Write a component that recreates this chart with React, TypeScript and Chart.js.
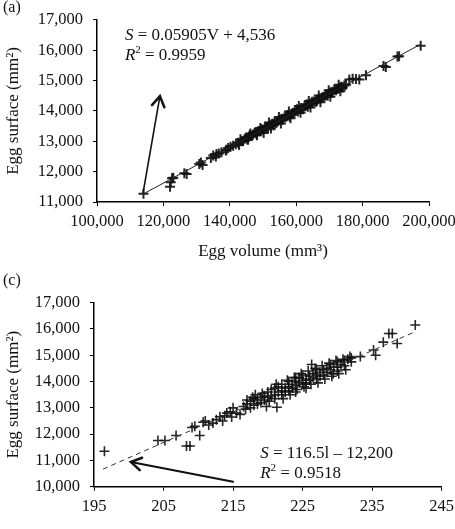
import React, { useEffect, useRef } from "react";
import { Chart, registerables } from "chart.js";
Chart.register(...registerables);

const FONT = "'Liberation Serif', 'Times New Roman', serif";

// Panel (a): egg volume (mm3) vs egg surface (mm2)
const pointsA: [number, number][] = [
  [114000, 11270], [122000, 11500], [122200, 11650], [122600, 11780], [123000, 11800],
  [126300, 11950], [127000, 11920], [130800, 12250], [131300, 12300], [131800, 12220],
  [134300, 12450], [135000, 12530], [135800, 12500], [136700, 12600], [137500, 12640],
  [138800, 12700], [139500, 12780], [140200, 12820], [141000, 12850], [141800, 12900],
  [142500, 12950], [143500, 13000], [144500, 13080], [145000, 13120], [145500, 13050],
  [146000, 13200], [146500, 13180], [147000, 13220], [147500, 13280], [148000, 13250],
  [148500, 13330], [149000, 13330], [149500, 13400], [150000, 13380], [150500, 13420],
  [151000, 13480], [151500, 13440], [152000, 13520], [152500, 13550], [153000, 13560],
  [153500, 13640], [154000, 13600], [154500, 13680], [155000, 13700], [155500, 13740],
  [156000, 13720], [156500, 13790], [157000, 13810], [157500, 13860], [158000, 13820],
  [158500, 13900], [159000, 13930], [159500, 13960], [160000, 14010], [160500, 13980],
  [161000, 14050], [161500, 14100], [162000, 14060], [162500, 14150], [163000, 14180],
  [163500, 14140], [164000, 14230], [164500, 14250], [165000, 14270], [165500, 14320],
  [166000, 14300], [166500, 14380], [167000, 14400], [167500, 14420], [168000, 14460],
  [168500, 14480], [169000, 14520], [169500, 14500], [170000, 14580], [170500, 14620],
  [171000, 14630], [171500, 14700], [172000, 14680], [172500, 14720], [173000, 14760],
  [173500, 14800], [174000, 14770], [174500, 14840], [175000, 14860], [176000, 15040],
  [177000, 15060], [178000, 15050], [179000, 15040], [181000, 15180], [186300, 15480],
  [187000, 15450], [190500, 15790], [191000, 15800], [197500, 16150],
  [145800, 13150], [147800, 13300], [150800, 13460], [152800, 13580], [155800, 13720],
  [158800, 13910], [161800, 14070], [164800, 14300], [167800, 14430], [170800, 14600],
  [173800, 14780], [148200, 13200], [153200, 13520], [157200, 13860], [160200, 14060],
  [163200, 14220], [166200, 14330], [169200, 14560],
  [149200, 13440], [150200, 13270], [151800, 13620], [152400, 13420], [154800, 13800],
  [155400, 13590], [157800, 13980], [158300, 13760], [160800, 14160], [161300, 13940],
  [163800, 14330], [164300, 14110], [166800, 14510], [167300, 14290], [169800, 14680],
  [170300, 14470], [172800, 14860], [173300, 14650], [146200, 13260], [145300, 13060],
  [143200, 13070], [142800, 12880], [144000, 13020], [139000, 12720], [136000, 12580],
];
const fitA: [number, number][] = [[114000, 11268], [197500, 16198]];
const xTicksA = [100000, 120000, 140000, 160000, 180000, 200000];
const yTicksA = [11000, 12000, 13000, 14000, 15000, 16000, 17000];
const arrowA: [number, number][] = [[113900, 11320], [118950, 14490]];
const eqA = { x: 108400, y1: 16480, y2: 15830 };

// Panel (c): egg length vs egg surface (mm2)
const pointsC: [number, number][] = [
  [196.5, 11350], [204.2, 11760], [205.2, 11760], [206.8, 11950], [208.3, 11550],
  [208.8, 11550], [209.1, 12250], [209.5, 12300], [210.2, 11950], [210.7, 12450],
  [211.0, 12500], [211.5, 12350], [212.1, 12420], [212.6, 12550], [213.1, 12660],
  [213.8, 12700], [214.1, 12800], [214.6, 12850], [215.0, 13000], [215.5, 12800],
  [216.0, 12750], [216.5, 13050], [217.0, 13150], [217.0, 13300], [217.5, 13000],
  [217.5, 13250], [218.0, 13100], [218.0, 13350], [218.5, 13300], [218.5, 13150],
  [219.0, 13400], [219.0, 13200], [219.5, 13450], [219.5, 13300], [219.8, 13050],
  [220.0, 13400], [220.0, 13600], [220.5, 13450], [220.5, 13700], [221.0, 13500],
  [221.0, 13750], [221.0, 13350], [221.3, 13020], [221.5, 13600], [221.5, 13800],
  [222.0, 13650], [222.0, 13500], [222.0, 13900], [222.5, 13750], [222.5, 13600],
  [223.0, 13800], [223.0, 14000], [223.0, 13650], [223.5, 13900], [223.5, 13750],
  [224.0, 14000], [224.0, 13850], [224.0, 14150], [224.0, 13600], [224.5, 13950],
  [224.5, 14150], [225.0, 14050], [225.0, 13900], [225.0, 14250], [225.5, 14100],
  [225.5, 13950], [225.5, 13750], [226.0, 14200], [226.0, 14050], [226.3, 14650],
  [226.5, 14300], [226.5, 14150], [227.0, 14250], [227.0, 14450], [227.0, 14100],
  [227.5, 14350], [227.5, 14200], [228.0, 14450], [228.0, 14250], [228.5, 14500],
  [228.5, 14350], [229.0, 14450], [229.0, 14650], [229.4, 14300], [229.5, 14550],
  [230.0, 14550], [230.0, 14750], [230.0, 14400], [230.5, 14650], [231.0, 14800],
  [231.0, 14600], [231.5, 14850], [232.0, 14750], [232.0, 14900], [233.3, 14950],
  [235.2, 15200], [235.5, 15000], [236.6, 15500], [237.4, 15830], [237.9, 15830],
  [238.6, 15450], [241.2, 16150],
  [218.2, 13500], [219.2, 13550], [220.2, 13250], [221.2, 13900], [222.2, 13350],
  [222.8, 14050], [223.2, 13500], [223.8, 14150], [224.2, 13700], [224.8, 14300],
  [225.2, 13800], [225.8, 14400], [226.2, 13900], [226.8, 14500], [227.2, 13950],
  [227.8, 14600], [228.2, 14100], [228.8, 14700], [229.2, 14200], [229.8, 14800],
  [230.2, 14300], [230.8, 14850], [231.2, 14450], [231.8, 14950], [216.8, 12950],
  [217.8, 13400], [214.8, 12650], [213.5, 12500],
];
const fitC: [number, number][] = [[196.3, 10669], [240.8, 15853]];
const xTicksC = [195, 205, 215, 225, 235, 245];
const yTicksC = [10000, 11000, 12000, 13000, 14000, 15000, 16000, 17000];
const arrowC: [number, number][] = [[215, 10190], [200.3, 10940]];
const eqC = { x: 218.9, y1: 11280, y2: 10520 };

const fmt = (v: number) => v.toLocaleString("en-US");

type Seg = { t: string; italic?: boolean; sup?: boolean };

const annotPlugin = {
  id: "annot",
  afterDraw(chart: any, _args: any, opts: any) {
    const ctx = chart.ctx as CanvasRenderingContext2D;
    const xs = chart.scales.x;
    const ys = chart.scales.y;
    ctx.save();
    ctx.fillStyle = "#111";
    ctx.textBaseline = "middle";
    ctx.textAlign = "left";
    ctx.font = `16px ${FONT}`;
    ctx.fillText(opts.panel, opts.panelX, opts.panelY);
    for (const line of opts.lines as { x: number; y: number; segs: Seg[] }[]) {
      let x = xs.getPixelForValue(line.x);
      const y = ys.getPixelForValue(line.y);
      for (const seg of line.segs) {
        ctx.font = `${seg.italic ? "italic " : ""}${seg.sup ? 11 : 17}px ${FONT}`;
        ctx.fillText(seg.t, x, seg.sup ? y - 5 : y);
        x += ctx.measureText(seg.t).width;
      }
    }
    const a = opts.arrow as [number, number][];
    const x0 = xs.getPixelForValue(a[0][0]);
    const y0 = ys.getPixelForValue(a[0][1]);
    const x1 = xs.getPixelForValue(a[1][0]);
    const y1 = ys.getPixelForValue(a[1][1]);
    ctx.strokeStyle = "#111";
    ctx.lineWidth = opts.arrowWidth;
    ctx.lineCap = "round";
    ctx.beginPath();
    ctx.moveTo(x0, y0);
    ctx.lineTo(x1, y1);
    ctx.stroke();
    const ang = Math.atan2(y1 - y0, x1 - x0);
    const hl = 12;
    const spread = 0.55;
    ctx.lineWidth = 2.5;
    ctx.lineJoin = "miter";
    ctx.beginPath();
    ctx.moveTo(x1 - hl * Math.cos(ang - spread), y1 - hl * Math.sin(ang - spread));
    ctx.lineTo(x1, y1);
    ctx.lineTo(x1 - hl * Math.cos(ang + spread), y1 - hl * Math.sin(ang + spread));
    ctx.stroke();
    ctx.restore();
  },
};

function makeConfig(p: {
  points: [number, number][];
  fit: [number, number][];
  dashed: boolean;
  xMin: number; xMax: number; xTicks: number[];
  yMin: number; yMax: number; yTicks: number[];
  xTitle: string | null;
  yW: number; xH: number; padTop: number; padRight: number;
  markerWidth: number;
  annot: any;
}): any {
  const tickFont = { family: FONT, size: 16.5 };
  const titleFont = { family: FONT, size: 17 };
  return {
    type: "scatter",
    data: {
      datasets: [
        {
          type: "line",
          data: p.fit.map(([x, y]) => ({ x, y })),
          borderColor: p.dashed ? "#333" : "#222",
          borderWidth: 1,
          borderDash: p.dashed ? [5, 4] : [],
          pointRadius: 0,
          fill: false,
        },
        {
          data: p.points.map(([x, y]) => ({ x, y })),
          pointStyle: "cross",
          pointRadius: 5,
          borderColor: "rgba(15,15,15,0.9)",
          backgroundColor: "rgba(15,15,15,0.9)",
          pointBorderWidth: p.markerWidth,
        },
      ],
    },
    options: {
      animation: false,
      responsive: false,
      maintainAspectRatio: false,
      layout: { padding: { left: 0, top: p.padTop, right: p.padRight, bottom: 0 } },
      plugins: { legend: { display: false }, tooltip: { enabled: false }, annot: p.annot },
      scales: {
        x: {
          type: "linear",
          min: p.xMin,
          max: p.xMax,
          afterBuildTicks: (s: any) => { s.ticks = p.xTicks.map((v) => ({ value: v })); },
          afterFit: (s: any) => { s.height = p.xH; },
          grid: { display: true, drawOnChartArea: false, drawTicks: true, tickLength: 4, color: "#000", tickColor: "#000", lineWidth: 1 },
          border: { display: true, color: "#000", width: 1.5 },
          ticks: { font: tickFont, color: "#111", padding: 6, maxRotation: 0, autoSkip: false, callback: (v: number) => fmt(v) },
          title: { display: !!p.xTitle, text: p.xTitle || "", font: titleFont, color: "#111", padding: { top: 0, bottom: 0 } },
        },
        y: {
          type: "linear",
          min: p.yMin,
          max: p.yMax,
          afterBuildTicks: (s: any) => { s.ticks = p.yTicks.map((v) => ({ value: v })); },
          afterFit: (s: any) => { s.width = p.yW; },
          grid: { display: true, drawOnChartArea: false, drawTicks: true, tickLength: 4, color: "#000", tickColor: "#000", lineWidth: 1 },
          border: { display: true, color: "#000", width: 1.5 },
          ticks: { font: tickFont, color: "#111", padding: 10, autoSkip: false, callback: (v: number) => fmt(v) },
          title: { display: true, text: "Egg surface (mm²)", font: titleFont, color: "#111", padding: { top: 3, bottom: 0 } },
        },
      },
    },
    plugins: [annotPlugin],
  };
}

export default function App() {
  const refA = useRef<HTMLCanvasElement>(null);
  const refC = useRef<HTMLCanvasElement>(null);
  useEffect(() => {
    const cA = new Chart(refA.current!, makeConfig({
      points: pointsA, fit: fitA, dashed: false,
      xMin: 100000, xMax: 200000, xTicks: xTicksA,
      yMin: 11000, yMax: 17000, yTicks: yTicksA,
      xTitle: "Egg volume (mm³)",
      yW: 97, xH: 60, padTop: 15, padRight: 71,
      markerWidth: 2,
      annot: {
        panel: "(a)", panelX: 3, panelY: 8,
        lines: [
          { x: eqA.x, y: eqA.y1, segs: [{ t: "S", italic: true }, { t: " = 0.05905V + 4,536" }] },
          { x: eqA.x, y: eqA.y2, segs: [{ t: "R", italic: true }, { t: "2", sup: true }, { t: " = 0.9959" }] },
        ],
        arrow: arrowA, arrowWidth: 1.6,
      },
    }));
    const cC = new Chart(refC.current!, makeConfig({
      points: pointsC, fit: fitC, dashed: true,
      xMin: 195, xMax: 245, xTicks: xTicksC,
      yMin: 10000, yMax: 17000, yTicks: yTicksC,
      xTitle: null,
      yW: 94, xH: 42.3, padTop: 40.7, padRight: 58.3,
      markerWidth: 1.6,
      annot: {
        panel: "(c)", panelX: 3, panelY: 19,
        lines: [
          { x: eqC.x, y: eqC.y1, segs: [{ t: "S", italic: true }, { t: " = 116.5l – 12,200" }] },
          { x: eqC.x, y: eqC.y2, segs: [{ t: "R", italic: true }, { t: "2", sup: true }, { t: " = 0.9518" }] },
        ],
        arrow: arrowC, arrowWidth: 2,
      },
    }));
    return () => { cA.destroy(); cC.destroy(); };
  }, []);
  return (
    <div style={{ position: "absolute", left: 0, top: 0, width: 455, height: 529, overflow: "hidden", background: "#fff" }}>
      <canvas ref={refA} width={500} height={262} style={{ position: "absolute", left: 0, top: 0, display: "block" }} />
      <canvas ref={refC} width={500} height={267} style={{ position: "absolute", left: 0, top: 262, display: "block" }} />
    </div>
  );
}
